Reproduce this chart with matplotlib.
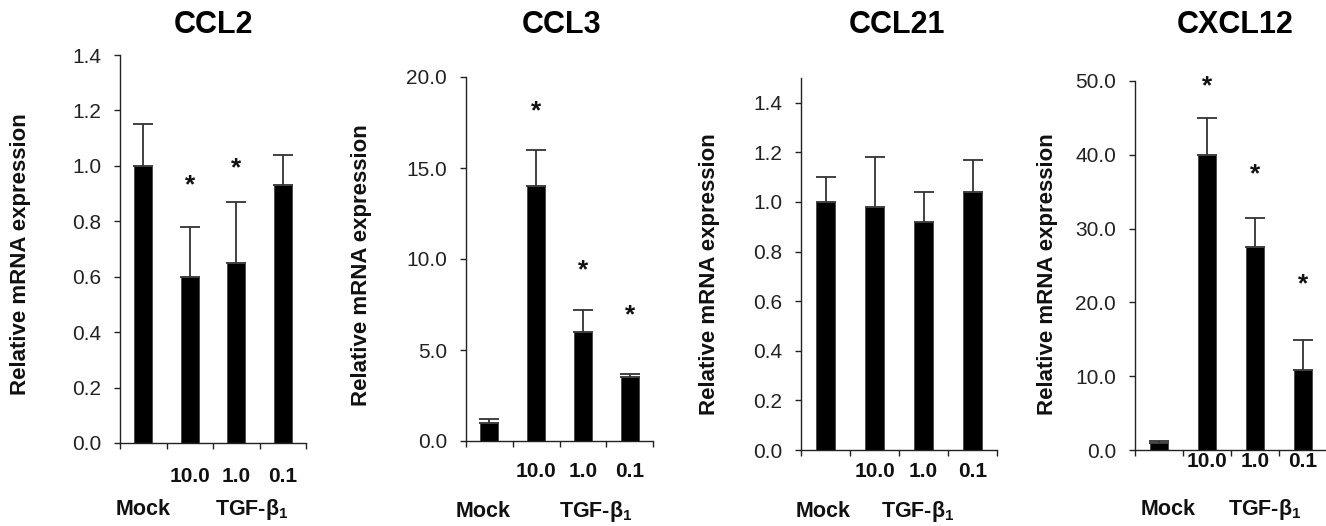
import matplotlib
matplotlib.use("Agg")
import matplotlib.pyplot as plt
from matplotlib.ticker import FormatStrFormatter, FixedLocator
from matplotlib.transforms import blended_transform_factory

plt.rcParams["font.family"] = ["Liberation Sans", "DejaVu Sans"]
plt.rcParams["mathtext.fontset"] = "custom"
plt.rcParams["mathtext.rm"] = "Liberation Sans:bold"
plt.rcParams["mathtext.bf"] = "Liberation Sans:bold"

W, H = 1326, 526

GENES = ["CCL2", "CCL3", "CCL21", "CXCL12"]
DOSES = ["10.0", "1.0", "0.1"]
GROUP_MOCK = "Mock"
GROUP_TGF = r"TGF-β$_\mathrm{1}$"
YLABEL = "Relative mRNA expression"

# bar mean, upper error, star height (None = no star)
CCL2_MEAN = [1.00, 0.60, 0.65, 0.93]
CCL2_ERR = [0.15, 0.18, 0.22, 0.11]
CCL2_STAR = [None, 0.93, 0.99, None]

CCL3_MEAN = [1.0, 14.0, 6.0, 3.5]
CCL3_ERR = [0.2, 2.0, 1.2, 0.2]
CCL3_STAR = [None, 18.1, 9.4, 6.9]

CCL21_MEAN = [1.00, 0.98, 0.92, 1.04]
CCL21_ERR = [0.10, 0.20, 0.12, 0.13]
CCL21_STAR = [None, None, None, None]

CXCL12_MEAN = [1.0, 40.0, 27.5, 10.9]
CXCL12_ERR = [0.2, 5.0, 4.0, 4.0]
CXCL12_STAR = [None, 49.3, 37.3, 22.4]

YMAX = [1.4, 20.0, 1.5, 50.0]
YTICKS = [
    [0.0, 0.2, 0.4, 0.6, 0.8, 1.0, 1.2, 1.4],
    [0.0, 5.0, 10.0, 15.0, 20.0],
    [0.0, 0.2, 0.4, 0.6, 0.8, 1.0, 1.2, 1.4],
    [0.0, 10.0, 20.0, 30.0, 40.0, 50.0],
]

# layout, in pixels unless noted: axes box (left, right, top, bottom)
BOXES = [(120, 306, 55, 443), (466, 653, 77, 441), (801, 997, 78, 450), (1135, 1327, 81, 450)]
YLABEL_X = [21, 362, 710, 1047]
YLABEL_Y = [254, 265, 274, 274]
TITLE_X = [213, 562, 897, 1235]
DOSE_BASE = [482, 477, 477, 467]
GROUP_BASE = [515, 517, 517, 515]
MOCK_X = [1.0, 0.87, 0.96, 1.2]   # data units
TGF_X = [3.33, 3.28, 2.88, 3.21]  # data units

fig = plt.figure(figsize=(W / 100, H / 100), dpi=100)

panels = [
    (CCL2_MEAN, CCL2_ERR, CCL2_STAR),
    (CCL3_MEAN, CCL3_ERR, CCL3_STAR),
    (CCL21_MEAN, CCL21_ERR, CCL21_STAR),
    (CXCL12_MEAN, CXCL12_ERR, CXCL12_STAR),
]

for i, (mean, err, star) in enumerate(panels):
    l, r, t, b = BOXES[i]
    ax = fig.add_axes([l / W, 1 - b / H, (r - l) / W, (b - t) / H])
    x = [1, 2, 3, 4]
    ax.bar(x, mean, width=0.39, color="black", edgecolor="#444444", linewidth=0.6, zorder=2)
    ax.errorbar(x, mean, yerr=[[0] * 4, err], fmt="none", ecolor="#333333",
                elinewidth=1.3, capsize=7, capthick=1.3, zorder=1)
    for xi, s in zip(x, star):
        if s is not None:
            ax.text(xi, s, "*", ha="center", va="center", fontsize=19,
                    fontweight="bold", color="#111111")

    ax.set_xlim(0.5, 4.5)
    ax.set_ylim(0, YMAX[i])
    ax.yaxis.set_major_locator(FixedLocator(YTICKS[i]))
    ax.yaxis.set_major_formatter(FormatStrFormatter("%.1f"))
    ax.set_xticks([0.5, 1.5, 2.5, 3.5, 4.5])
    ax.set_xticklabels([])
    for side in ("top", "right"):
        ax.spines[side].set_visible(False)
    for side in ("left", "bottom"):
        ax.spines[side].set_linewidth(1.0)
        ax.spines[side].set_color("#222222")
    ax.tick_params(direction="out", length=4.5, width=1.0, color="#222222",
                   labelsize=15, labelcolor="#222222")
    ax.tick_params(axis="y", pad=9)

    tr = blended_transform_factory(ax.transData, fig.transFigure)
    for xi, d in zip(x[1:], DOSES):
        ax.text(xi, 1 - DOSE_BASE[i] / H, d, transform=tr, ha="center", va="baseline",
                fontsize=15, fontweight="bold", color="#111111")
    ax.text(MOCK_X[i], 1 - GROUP_BASE[i] / H, GROUP_MOCK, transform=tr, ha="center",
            va="baseline", fontsize=15.5, fontweight="bold", color="#111111")
    ax.text(TGF_X[i], 1 - GROUP_BASE[i] / H, GROUP_TGF, transform=tr, ha="center",
            va="baseline", fontsize=15.5, fontweight="bold", color="#111111")

    fig.text(YLABEL_X[i] / W, 1 - YLABEL_Y[i] / H, YLABEL, rotation=90,
             ha="center", va="center", fontsize=16, fontweight="bold", color="#111111")
    fig.text(TITLE_X[i] / W, 1 - 33 / H, GENES[i], ha="center", va="baseline",
             fontsize=22, fontweight="bold", color="black")

fig.savefig("out.png", dpi=100)
